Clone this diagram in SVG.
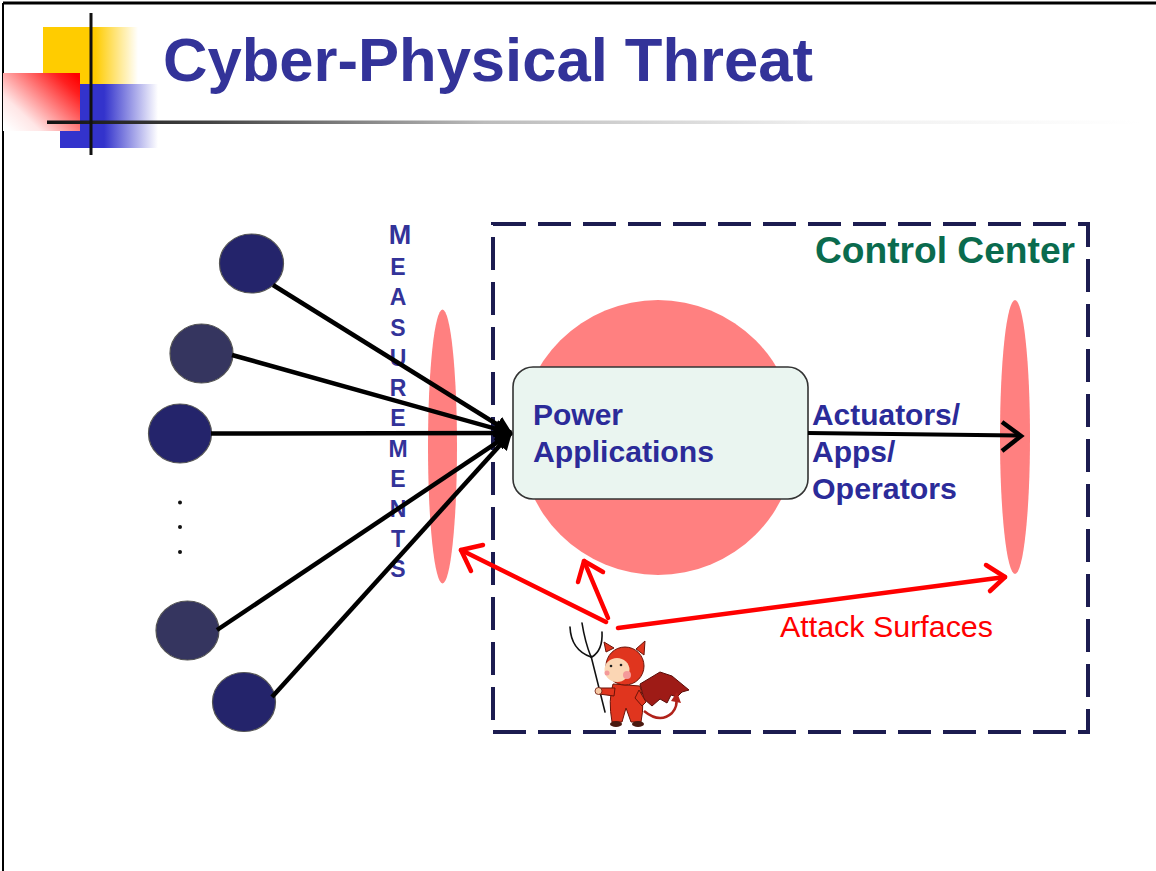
<svg xmlns="http://www.w3.org/2000/svg" width="1156" height="871" viewBox="0 0 1156 871">
  <defs>
    <linearGradient id="gYellow" x1="0" y1="0" x2="1" y2="0">
      <stop offset="0" stop-color="#FFCC00"/>
      <stop offset="0.55" stop-color="#FFCC00"/>
      <stop offset="1" stop-color="#FFCC00" stop-opacity="0"/>
    </linearGradient>
    <linearGradient id="gBlue" x1="0" y1="0" x2="1" y2="0">
      <stop offset="0" stop-color="#3333CC"/>
      <stop offset="0.45" stop-color="#3333CC"/>
      <stop offset="1" stop-color="#3333CC" stop-opacity="0"/>
    </linearGradient>
    <linearGradient id="gRed" x1="1" y1="0.1" x2="0" y2="0.9">
      <stop offset="0" stop-color="#FF0000"/>
      <stop offset="0.15" stop-color="#FF2020"/>
      <stop offset="0.75" stop-color="#FFE6E6"/>
      <stop offset="1" stop-color="#FFFFFF"/>
    </linearGradient>
    <linearGradient id="gRule" gradientUnits="userSpaceOnUse" x1="47" y1="0" x2="1140" y2="0">
      <stop offset="0" stop-color="#111111"/>
      <stop offset="0.15" stop-color="#444444"/>
      <stop offset="0.4" stop-color="#BBBBBB"/>
      <stop offset="0.7" stop-color="#EEEEEE"/>
      <stop offset="1" stop-color="#FFFFFF"/>
    </linearGradient>
    <marker id="mFill" viewBox="0 0 10 10" refX="9" refY="5" markerWidth="4" markerHeight="4" orient="auto" markerUnits="strokeWidth">
      <path d="M0,0 L10,5 L0,10 z" fill="#000"/>
    </marker>
  </defs>
  <style>
    .title { font-family: "Liberation Sans", Arial, sans-serif; font-weight: bold; font-size: 62px; fill: #333399; }
    .meas { font-family: "Liberation Sans", Arial, sans-serif; font-weight: bold; font-size: 23px; fill: #333399; }
    .lbl { font-family: "Liberation Sans", Arial, sans-serif; font-weight: bold; font-size: 30px; fill: #2B2B99; }
    .cc { font-family: "Liberation Sans", Arial, sans-serif; font-weight: bold; font-size: 36px; fill: #0A6B4E; }
    .atk { font-family: "Liberation Sans", Arial, sans-serif; font-size: 29px; fill: #FF0000; }
    .sensor { stroke: #555; stroke-width: 1.2; }
    .surface { fill: #FF8080; }
    .feed { stroke: #000; stroke-width: 4.5; fill: none; marker-end: url(#mFill); }
    .attack { stroke: #FF0000; stroke-width: 4.5; fill: none; stroke-linecap: round; stroke-linejoin: round; }
  </style>

  <rect width="1156" height="871" fill="#FFFFFF"/>
  <!-- slide frame -->
  <line x1="3" y1="3" x2="1156" y2="3" stroke="#000" stroke-width="3"/>
  <line x1="3" y1="3" x2="3" y2="871" stroke="#000" stroke-width="2"/>

  <!-- header ornament -->
  <g id="header">
    <rect x="43" y="27" width="95" height="57" fill="url(#gYellow)"/>
    <rect x="60" y="84" width="98" height="64" fill="url(#gBlue)"/>
    <rect x="3" y="73" width="77" height="58" fill="url(#gRed)"/>
    <rect x="47" y="120.5" width="1093" height="3.5" fill="url(#gRule)"/>
    <line x1="91" y1="13" x2="91" y2="155" stroke="#111" stroke-width="3"/>
    <text class="title" x="163" y="81" textLength="650" lengthAdjust="spacingAndGlyphs">Cyber-Physical Threat</text>
  </g>

  <!-- attack surfaces -->
  <g id="surfaces">
    <ellipse class="surface" cx="442.5" cy="446.5" rx="14.5" ry="137"/>
    <ellipse class="surface" cx="658" cy="437.5" rx="138" ry="137.5"/>
    <ellipse class="surface" cx="1015" cy="437" rx="15" ry="137"/>
  </g>

  <!-- control center boundary -->
  <g id="control-center">
    <rect x="493" y="224" width="595" height="508" fill="none" stroke="#1C1C50" stroke-width="4" stroke-dasharray="33 12"/>
    <text class="cc" x="815" y="263" textLength="260" lengthAdjust="spacingAndGlyphs">Control Center</text>
  </g>

  <!-- field sensors -->
  <g id="sensors">
    <ellipse id="s1" class="sensor" cx="251.5" cy="263.5" rx="32" ry="29.5" fill="#24246B"/>
    <ellipse id="s2" class="sensor" cx="201.5" cy="353.5" rx="31.5" ry="29.5" fill="#35355F"/>
    <ellipse id="s3" class="sensor" cx="180" cy="433.5" rx="31.5" ry="29.5" fill="#24246B"/>
    <ellipse id="s4" class="sensor" cx="187.5" cy="630.5" rx="31.5" ry="29.5" fill="#35355F"/>
    <ellipse id="s5" class="sensor" cx="244" cy="702" rx="31.5" ry="29.5" fill="#24246B"/>
    <circle cx="180" cy="502.5" r="2" fill="#111"/>
    <circle cx="180" cy="527" r="2" fill="#111"/>
    <circle cx="180" cy="552" r="2" fill="#111"/>
  </g>

  <!-- vertical label -->
  <g id="measurements-label">
    <text class="meas" x="400" y="244" text-anchor="middle" style="font-size:27px">M</text>
    <text class="meas" x="398" y="275" text-anchor="middle">E</text>
    <text class="meas" x="398" y="305" text-anchor="middle">A</text>
    <text class="meas" x="398" y="335.5" text-anchor="middle">S</text>
    <text class="meas" x="398" y="366" text-anchor="middle">U</text>
    <text class="meas" x="398" y="396" text-anchor="middle">R</text>
    <text class="meas" x="398" y="426" text-anchor="middle">E</text>
    <text class="meas" x="398" y="456.5" text-anchor="middle">M</text>
    <text class="meas" x="398" y="486.5" text-anchor="middle">E</text>
    <text class="meas" x="398" y="517" text-anchor="middle">N</text>
    <text class="meas" x="398" y="547" text-anchor="middle">T</text>
    <text class="meas" x="398" y="577" text-anchor="middle">S</text>
  </g>

  <!-- core applications -->
  <g id="power-applications">
    <rect x="513" y="367" width="295" height="132" rx="20" ry="20" fill="#EAF5F0" stroke="#333" stroke-width="1.6"/>
    <text class="lbl" x="533" y="425">Power</text>
    <text class="lbl" x="533" y="462" textLength="181" lengthAdjust="spacingAndGlyphs">Applications</text>
  </g>

  <g id="outputs-label">
    <text class="lbl" x="812" y="425" textLength="148" lengthAdjust="spacingAndGlyphs">Actuators/</text>
    <text class="lbl" x="812" y="462">Apps/</text>
    <text class="lbl" x="812" y="499" textLength="145" lengthAdjust="spacingAndGlyphs">Operators</text>
  </g>

  <!-- connectors -->
  <g id="connectors">
    <line class="feed" x1="273" y1="285" x2="511" y2="433"/>
    <line class="feed" x1="232" y1="355" x2="511" y2="433"/>
    <line class="feed" x1="211" y1="433.5" x2="511" y2="433"/>
    <line class="feed" x1="217" y1="630" x2="511" y2="433"/>
    <line class="feed" x1="272" y1="697" x2="511" y2="433"/>

    <line x1="808" y1="433" x2="1020" y2="435.5" stroke="#000" stroke-width="4"/>
    <polyline points="1002,422 1021,436 1002,451" fill="none" stroke="#000" stroke-width="4.5" stroke-linejoin="miter"/>

    <line class="attack" x1="606" y1="622" x2="461" y2="550"/>
    <polyline class="attack" points="483,545 461,550 471,571"/>
    <line class="attack" x1="608" y1="618" x2="584" y2="561"/>
    <polyline class="attack" points="578,582 584,561 603,572"/>
    <line class="attack" x1="618" y1="628" x2="1005" y2="577"/>
    <polyline class="attack" points="986,565 1005,577 990,591"/>
    <text class="atk" x="780" y="637" textLength="213" lengthAdjust="spacingAndGlyphs">Attack Surfaces</text>
  </g>

  <!-- attacker figure -->
  <g id="attacker">
    <!-- trident -->
    <g stroke="#111" stroke-width="1.6" fill="none" stroke-linecap="round">
      <line x1="591" y1="656" x2="605" y2="712"/>
      <path d="M570,627 Q571,650 591,657"/>
      <path d="M582,623 Q585,642 591,657"/>
      <path d="M602,632 Q603,650 592,657"/>
    </g>
    <!-- wing -->
    <path d="M640,684 L660,672 L672,676 L689,690 L682,692 L677,697 L671,695 L667,703 L660,699 L652,706 L644,699 z" fill="#9E1B16" stroke="#5A0C08" stroke-width="1"/>
    <!-- tail -->
    <path d="M644,711 Q660,724 672,713 Q678,706 676,699" fill="none" stroke="#B0221A" stroke-width="2.5"/>
    <path d="M671,701 L677,692 L681,703 z" fill="#B0221A"/>
    <!-- body -->
    <path d="M613,684 Q608,700 612,722 L622,722 L626,708 L631,722 L641,722 Q645,702 640,686 z" fill="#E0351E" stroke="#6B1308" stroke-width="1"/>
    <!-- arms -->
    <path d="M615,688 L600,688 L599,694 L614,696 z" fill="#E0351E" stroke="#6B1308" stroke-width="1"/>
    <circle cx="598.5" cy="691" r="3.5" fill="#F7C9A4" stroke="#6B1308" stroke-width="0.8"/>
    <path d="M639,690 L646,702 L642,706 L635,698 z" fill="#E0351E" stroke="#6B1308" stroke-width="1"/>
    <!-- feet -->
    <ellipse cx="616" cy="724" rx="6" ry="3" fill="#4A1A10"/>
    <ellipse cx="638" cy="724" rx="6" ry="3" fill="#4A1A10"/>
    <!-- head -->
    <path d="M606,652 L604,642 L614,648 z" fill="#E0351E" stroke="#6B1308" stroke-width="1"/>
    <path d="M636,649 L645,641 L644,655 z" fill="#E0351E" stroke="#6B1308" stroke-width="1"/>
    <circle cx="625" cy="666" r="19" fill="#E0351E" stroke="#6B1308" stroke-width="1"/>
    <ellipse cx="617" cy="670" rx="12.5" ry="12" fill="#FBD6B4"/>
    <circle cx="611" cy="666" r="1.3" fill="#222"/>
    <circle cx="621" cy="665" r="1.3" fill="#222"/>
    <circle cx="627" cy="675" r="4" fill="#F49A9A"/>
    <circle cx="607" cy="673" r="2.5" fill="#F49A9A"/>
  </g>
</svg>
